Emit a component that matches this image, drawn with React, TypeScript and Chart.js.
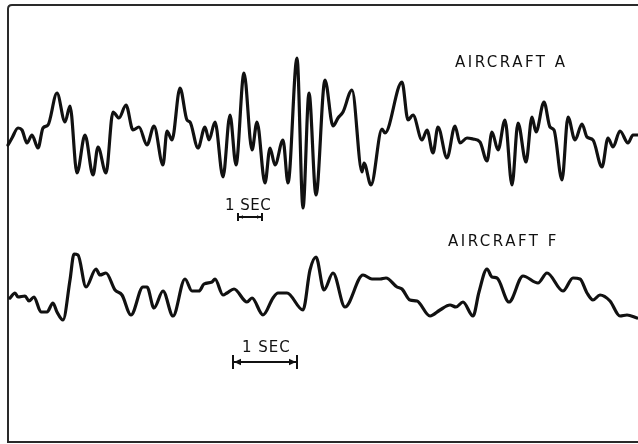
import React, { useEffect, useRef } from "react";
import { Chart, registerables } from "chart.js";

Chart.register(...registerables);

// Record position along the strip (chart units) and trace deflection (baseline = 0, up positive)
const aircraftAPos = [8,12,18,22,27,32,38,43,48,57,65,70,77,85,93,98,106,113,119,126,133,139,147,154,163,167,172,180,187,190,198,205,209,215,223,230,236,244,252,257,265,270,275,283,288,297,303,309,316,325,333,338,343,352,362,364,371,382,385,402,408,413,422,427,433,438,447,455,460,467,473,480,487,492,498,505,512,518,526,532,536,544,550,554,562,568,575,582,587,593,602,608,613,620,628,633,638];
const aircraftADefl = [-5,2,12,10,-3,5,-8,12,15,47,18,34,-33,5,-35,-7,-33,28,22,35,10,13,-5,14,-25,9,0,52,20,18,-8,13,0,18,-37,25,-25,67,-10,18,-43,-8,-25,0,-43,82,-68,47,-55,60,14,22,28,50,-32,-23,-45,11,7,58,20,25,0,10,-13,13,-18,14,-3,2,1,-2,-21,8,-10,20,-45,17,-22,23,8,38,13,10,-40,23,0,16,3,0,-27,2,-7,9,-3,5,5];

const aircraftFPos = [10,15,18,25,29,34,41,47,53,57,63,70,74,78,86,96,100,106,115,122,131,143,147,154,163,173,185,192,199,204,212,215,223,227,234,247,252,263,273,278,287,303,310,316,324,333,345,363,372,380,386,397,402,410,417,430,440,450,456,463,473,479,487,492,497,509,523,538,547,563,573,580,587,593,600,610,620,627,637];
const aircraftFDefl = [0,5,1,2,-3,1,-14,-14,-5,-14,-22,18,44,43,11,29,23,25,8,3,-17,11,11,-10,7,-18,19,7,7,14,16,19,3,5,9,-4,0,-17,0,5,5,-12,28,41,8,25,-9,23,19,19,20,11,9,-2,-3,-18,-12,-7,-9,-4,-18,6,29,21,20,-4,22,15,25,7,20,19,5,-2,3,-3,-18,-17,-20];

const traceLabels = ["AIRCRAFT A", "AIRCRAFT F"];
const scaleLabel = "1 SEC";
// scale bar spans (record units): one second on each strip
const scaleA = [238, 262];
const scaleF = [233, 297];

const toPts = (xs: number[], ys: number[]) => xs.map((x, i) => ({ x, y: ys[i] }));

export default function App() {
  const ref = useRef<HTMLCanvasElement>(null);
  useEffect(() => {
    document.body.style.margin = "0";
    const canvas = ref.current!;
    const overlay = {
      id: "overlay",
      beforeDraw(chart: any) {
        const ctx = chart.ctx;
        ctx.save();
        ctx.fillStyle = "#ffffff";
        ctx.fillRect(0, 0, chart.width, chart.height);
        ctx.strokeStyle = "#2a2a2a";
        ctx.lineWidth = 2;
        ctx.beginPath();
        ctx.moveTo(638, 5);
        ctx.lineTo(12, 5);
        ctx.quadraticCurveTo(8, 5, 8, 9);
        ctx.lineTo(8, 442);
        ctx.lineTo(638, 442);
        ctx.stroke();
        ctx.restore();
      },
      afterDraw(chart: any) {
        const ctx = chart.ctx;
        const x = chart.scales.x;
        const yA = chart.scales.yA;
        const yF = chart.scales.yF;
        ctx.save();
        ctx.fillStyle = "#111";
        ctx.strokeStyle = "#111";
        ctx.font = '15px "DejaVu Sans", sans-serif';
        (ctx as any).letterSpacing = "2.5px";
        ctx.textBaseline = "alphabetic";
        ctx.textAlign = "left";
        ctx.fillText(traceLabels[0], x.getPixelForValue(455), yA.getPixelForValue(73));
        ctx.fillText(traceLabels[1], x.getPixelForValue(448), yF.getPixelForValue(52));
        (ctx as any).letterSpacing = "0.5px";
        ctx.fillText(scaleLabel, x.getPixelForValue(225), yA.getPixelForValue(-70));
        (ctx as any).letterSpacing = "1px";
        ctx.fillText(scaleLabel, x.getPixelForValue(242), yF.getPixelForValue(-54));
        // scale bars
        const bar = (x0: number, x1: number, y: number, h: number, arrow: number) => {
          ctx.lineWidth = 2;
          ctx.beginPath();
          ctx.moveTo(x0, y);
          ctx.lineTo(x1, y);
          ctx.moveTo(x0, y - h);
          ctx.lineTo(x0, y + h);
          ctx.moveTo(x1, y - h);
          ctx.lineTo(x1, y + h);
          ctx.stroke();
          ctx.beginPath();
          ctx.moveTo(x0 + 1, y);
          ctx.lineTo(x0 + 1 + arrow, y - arrow / 2.2);
          ctx.lineTo(x0 + 1 + arrow, y + arrow / 2.2);
          ctx.closePath();
          ctx.moveTo(x1 - 1, y);
          ctx.lineTo(x1 - 1 - arrow, y - arrow / 2.2);
          ctx.lineTo(x1 - 1 - arrow, y + arrow / 2.2);
          ctx.closePath();
          ctx.fill();
        };
        bar(x.getPixelForValue(scaleA[0]), x.getPixelForValue(scaleA[1]), yA.getPixelForValue(-77), 4, 4);
        bar(x.getPixelForValue(scaleF[0]), x.getPixelForValue(scaleF[1]), yF.getPixelForValue(-64), 7, 7);
        ctx.restore();
      },
    };
    const common = {
      borderColor: "#111",
      borderWidth: 3.2,
      pointRadius: 0,
      fill: false,
      cubicInterpolationMode: "monotone" as const,
      borderCapStyle: "round" as const,
      borderJoinStyle: "round" as const,
    };
    const chart = new Chart(canvas, {
      type: "line",
      data: {
        datasets: [
          { ...common, label: traceLabels[0], data: toPts(aircraftAPos, aircraftADefl), yAxisID: "yA" },
          { ...common, label: traceLabels[1], data: toPts(aircraftFPos, aircraftFDefl), yAxisID: "yF" },
        ],
      },
      options: {
        animation: false,
        responsive: false,
        layout: { padding: 0 },
        plugins: { legend: { display: false }, tooltip: { enabled: false } },
        scales: {
          x: { type: "linear", min: 0, max: 638, display: false },
          yA: { type: "linear", min: -304, max: 140, display: false },
          yF: { type: "linear", min: -146, max: 298, display: false },
        },
      },
      plugins: [overlay],
    });
    return () => chart.destroy();
  }, []);
  return (
    <div style={{ position: "fixed", left: 0, top: 0, width: 638, height: 444 }}>
      <canvas ref={ref} width={638} height={444} />
    </div>
  );
}
